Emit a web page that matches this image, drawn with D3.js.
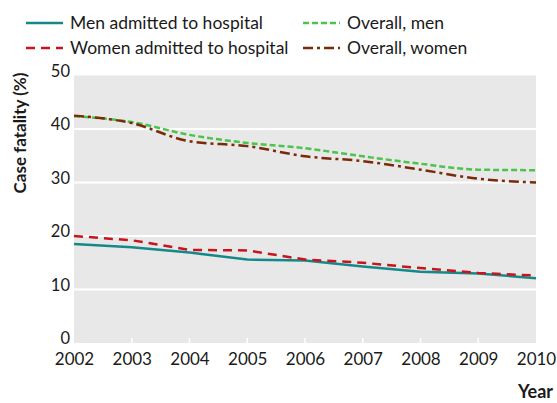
<!DOCTYPE html>
<html>
<head>
<meta charset="utf-8">
<script src="https://cdn.jsdelivr.net/npm/d3@7"></script>
<style>
  body { margin: 0; background: #fff; }
  text { font-family: Lato, "Open Sans", sans-serif; fill: #1a1a1a; }
</style>
</head>
<body>
<div id="chart"></div>
<script>
const years = [2002, 2003, 2004, 2005, 2006, 2007, 2008, 2009, 2010];
const menHospital = [18.5, 17.9, 16.9, 15.6, 15.4, 14.3, 13.3, 13.0, 12.1];
const womenHospital = [20.0, 19.2, 17.4, 17.3, 15.6, 15.0, 14.0, 13.1, 12.6];
const overallMen = [42.4, 41.3, 38.9, 37.4, 36.4, 34.9, 33.5, 32.4, 32.3];
const overallWomen = [42.5, 41.1, 37.7, 36.8, 34.9, 34.0, 32.4, 30.7, 30.0];
const yTicks = [0, 10, 20, 30, 40, 50];

const width = 557, height = 403;
const plot = { left: 74, right: 536, top: 75.5, bottom: 343 };

// series styling
const series = [
  { name: 'Men admitted to hospital', values: menHospital, color: '#15898a', dash: null, curve: d3.curveLinear },
  { name: 'Women admitted to hospital', values: womenHospital, color: '#c8141c', dash: '9,6', curve: d3.curveLinear },
  { name: 'Overall, men', values: overallMen, color: '#4cc34a', dash: '6,3', curve: d3.curveMonotoneX },
  { name: 'Overall, women', values: overallWomen, color: '#7a2a08', dash: '10,4,3,4', curve: d3.curveMonotoneX }
];

const svg = d3.select('#chart').append('svg')
  .attr('width', width)
  .attr('height', height);

const x = d3.scaleLinear().domain([2002, 2010]).range([plot.left, plot.right]);
const y = d3.scaleLinear().domain([0, 50]).range([plot.bottom, plot.top]);

// grey panel
svg.append('rect')
  .attr('x', plot.left)
  .attr('y', plot.top)
  .attr('width', plot.right - plot.left)
  .attr('height', plot.bottom - plot.top)
  .attr('fill', '#e8e8e8');

// white gridlines
svg.append('g')
  .selectAll('line')
  .data(yTicks.filter(d => d > 0 && d < 50))
  .enter().append('line')
  .attr('x1', plot.left)
  .attr('x2', plot.right)
  .attr('y1', d => y(d))
  .attr('y2', d => y(d))
  .attr('stroke', '#fff')
  .attr('stroke-width', 2);

// y axis
const yAxis = d3.axisLeft(y).tickValues(yTicks).tickSize(0).tickPadding(4);
const gy = svg.append('g')
  .attr('transform', 'translate(' + plot.left + ',0)')
  .call(yAxis);
gy.select('.domain').remove();
gy.selectAll('text').style('font-size', '16.5px').attr('dy', '0.05em');

// x axis with small white ticks inside the panel
const xAxis = d3.axisBottom(x).tickValues(years).tickFormat(d3.format('d')).tickSize(0).tickPadding(10);
const gx = svg.append('g')
  .attr('transform', 'translate(0,' + plot.bottom + ')')
  .call(xAxis);
gx.select('.domain').remove();
gx.selectAll('text').style('font-size', '17px');

svg.append('g')
  .selectAll('line')
  .data(years.slice(1, -1))
  .enter().append('line')
  .attr('x1', d => x(d))
  .attr('x2', d => x(d))
  .attr('y1', plot.bottom)
  .attr('y2', plot.bottom - 5)
  .attr('stroke', '#fff')
  .attr('stroke-width', 1.5);

// lines
series.forEach(function (s) {
  const line = d3.line()
    .x((d, i) => x(years[i]))
    .y(d => y(d))
    .curve(s.curve);
  svg.append('path')
    .datum(s.values)
    .attr('d', line)
    .attr('fill', 'none')
    .attr('stroke', s.color)
    .attr('stroke-width', 2.5)
    .attr('stroke-dasharray', s.dash);
});

// axis titles
svg.append('text')
  .attr('transform', 'translate(26,' + 133 + ') rotate(-90)')
  .attr('text-anchor', 'middle')
  .style('font-size', '17px')
  .style('font-weight', 'bold')
  .text('Case fatality (%)');

svg.append('text')
  .attr('x', 553)
  .attr('y', 398)
  .attr('text-anchor', 'end')
  .style('font-size', '18px')
  .style('font-weight', 'bold')
  .text('Year');

// legend
const legendPos = [[26, 23], [26, 48], [303, 23], [303, 48]];
const legend = svg.append('g')
  .selectAll('g')
  .data(series)
  .enter().append('g')
  .attr('transform', (d, i) => 'translate(' + legendPos[i][0] + ',' + legendPos[i][1] + ')');
legend.append('line')
  .attr('x1', 0)
  .attr('x2', 37)
  .attr('stroke', d => d.color)
  .attr('stroke-width', 2.5)
  .attr('stroke-dasharray', d => d.dash);
legend.append('text')
  .attr('x', 44)
  .attr('dy', '0.35em')
  .style('font-size', '17.5px')
  .text(d => d.name);
</script>
</body>
</html>
